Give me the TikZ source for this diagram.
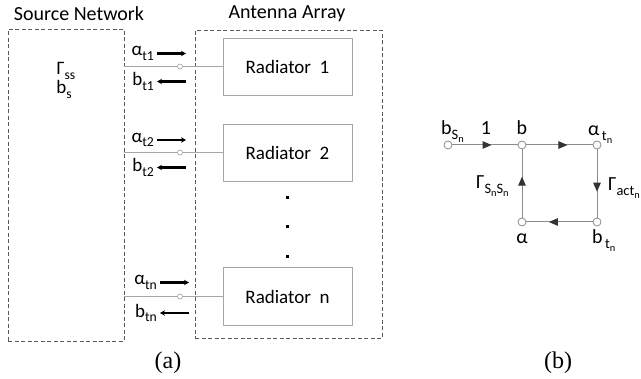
\documentclass[tikz,border=0pt]{standalone}
\usepackage{fontspec}
\usepackage{graphicx}
\setmainfont{Carlito}
\newfontfamily\tnr{Liberation Serif}
\usetikzlibrary{arrows.meta,decorations.markings,calc}
\newcommand\lo[1]{\raisebox{-0.22em}{\scalebox{0.72}{#1}}}
\begin{document}
\begin{tikzpicture}[x=1pt,y=-1pt,
  dbox/.style={draw=black!65,dash pattern=on 4pt off 2.5pt,line width=0.9pt,inner sep=0pt,anchor=north west},
  rad/.style={draw=black!35,line width=0.9pt,minimum width=129pt,minimum height=57pt,inner sep=0pt,font=\fontsize{19}{22}\selectfont},
  feed/.style={draw=black!35,line width=0.8pt},
  port/.style={circle,draw=black!40,fill=white,inner sep=0pt,minimum size=5pt,line width=0.6pt},
  wave/.style={line width=2.2pt,-{Stealth[length=5pt,width=5.5pt]}},
  lbl/.style={font=\fontsize{19}{22}\selectfont,inner sep=0pt},
  ttl/.style={font=\fontsize{20}{24}\selectfont,inner sep=0pt},
  captxt/.style={font=\tnr\fontsize{24}{28}\selectfont,inner sep=0pt},
  dotsq/.style={fill=black,minimum size=3pt,inner sep=0pt},
  sn/.style={circle,draw=black!45,fill=white,inner sep=0pt,minimum size=8pt,line width=0.8pt},
  sedge/.style={draw=black!45,line width=1pt,postaction={decorate},
    decoration={markings,mark=at position #1 with {\arrow{Triangle[length=9pt,width=7.5pt,color=black!80]}}}},
  sedge/.default=0.62,
  glbl/.style={font=\fontsize{20}{23}\selectfont,inner sep=0pt}]
\useasboundingbox (0,0) rectangle (641,379);

% ---------- (a) ----------
\node[ttl] (tsrc) at (79,14) {Source Network};
\node[ttl] (tant) at (287,14) {Antenna Array};
\node[dbox,minimum width=116pt,minimum height=312pt] (src) at (8,29) {};
\node[dbox,minimum width=187pt,minimum height=308pt] (ant) at (195,30) {};

\node[lbl,anchor=base] (gss) at (66,75) {Γ\lo{ss}};
\node[lbl,anchor=base] (bs) at (64,94) {b\lo{s}};

\node[rad] (r1) at (287.5,66.5) {Radiator\ \ 1};
\node[rad] (r2) at (287.5,152.5) {Radiator\ \ 2};
\node[rad,minimum height=58pt] (rn) at (287.5,296.5) {Radiator\ \ n};

\foreach \i/\y in {1/66.5,2/152.5,n/296.5}{
  \coordinate (s\i) at (124,\y);
  \node[port] (p\i) at (180,\y) {};
  \draw[feed] (s\i) -- (p\i) -- (r\i.west);
}

\node[dotsq] (d1) at (287,198) {};
\node[dotsq] (d2) at (287,227) {};
\node[dotsq] (d3) at (287,257) {};

\foreach \i/\ya/\yb/\xa/\xb in {1/53.5/81.5/157/186, 2/140/167.5/157/186, n/282.5/313/160/189}{
  \coordinate (aa\i) at (\xa,\ya); \coordinate (ab\i) at (\xb,\ya);
  \coordinate (ba\i) at (\xa,\yb); \coordinate (bb\i) at (\xb,\yb);
  \draw[wave] (aa\i) -- (ab\i);
  \draw[wave] (bb\i) -- (ba\i);
}
\node[lbl,anchor=east] (la1) at (154,53.5) {α\lo{t1}};
\node[lbl,anchor=east] (lb1) at (154,81.5) {b\lo{t1}};
\node[lbl,anchor=east] (la2) at (154,140) {α\lo{t2}};
\node[lbl,anchor=east] (lb2) at (154,167.5) {b\lo{t2}};
\node[lbl,anchor=east] (lan) at (157,282.5) {α\lo{tn}};
\node[lbl,anchor=east] (lbn) at (157,313) {b\lo{tn}};

\node[captxt] (capa) at (168,363) {(a)};

% ---------- (b) ----------
\node[sn] (bS) at (448,145) {};
\node[sn] (b) at (522,145) {};
\node[sn] (at) at (597,145) {};
\node[sn] (bt) at (597,222) {};
\node[sn] (al) at (522,222) {};

\draw[sedge=0.6] (bS) -- (b);
\draw[sedge] (b) -- (at);
\draw[sedge] (at) -- (bt);
\draw[sedge=0.66] (bt) -- (al);
\draw[sedge=0.6] (al) -- (b);

\node[glbl,anchor=base west] (lbS) at (441,135) {b\lo{S\lo{n}}};
\node[glbl,anchor=base] (l1) at (486,135) {1};
\node[glbl,anchor=base] (lb) at (522,135) {b};
\node[glbl,anchor=base west] (lat) at (588,136) {α\lo{\,t\lo{n}}};
\node[glbl,anchor=base west] (lgs) at (476,189) {Γ\lo{S\lo{n}S\lo{n}}};
\node[glbl,anchor=base west] (lga) at (608,191) {Γ\lo{act\lo{n}}};
\node[glbl,anchor=base] (lal) at (522,244) {α};
\node[glbl,anchor=base west] (lbt) at (592,244) {b\lo{\,t\lo{n}}};

\node[captxt] (capb) at (558,363) {(b)};
\end{tikzpicture}
\end{document}
